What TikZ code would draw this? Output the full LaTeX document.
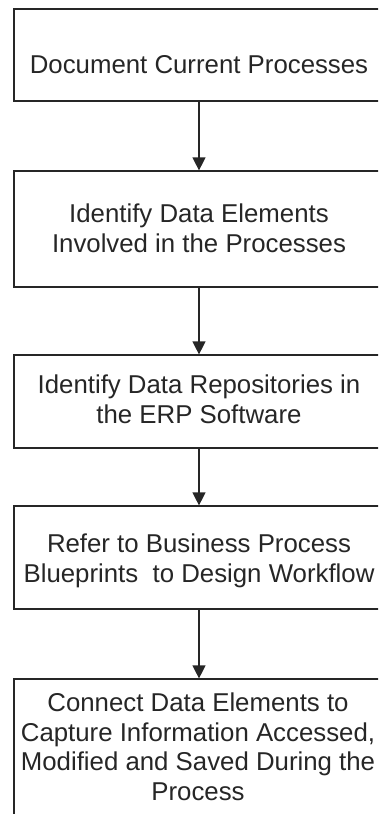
\documentclass[tikz,border=0pt]{standalone}
\usepackage{fontspec}
\setmainfont{Liberation Sans}
\usetikzlibrary{arrows.meta}
\definecolor{ink}{HTML}{262626}
\tikzset{
  stepbox/.style={draw=ink, line width=1.2pt, rectangle, inner sep=0pt, outer sep=0pt, minimum width=370pt},
  steptext/.style={text=ink, align=center, anchor=base, inner sep=0pt, font={\fontsize{25.8}{29.5}\selectfont}},
  flow/.style={draw=ink, line width=1.2pt, -{Triangle[width=13pt,length=13pt]}, shorten >=0.6pt}
}
\begin{document}
\begin{tikzpicture}[x=1pt,y=-1pt]
\path[use as bounding box, clip] (0,0) rectangle (378,814);
\node[stepbox, minimum height=92pt]  (b1) at (199,55) {};
\node[stepbox, minimum height=116pt] (b2) at (199,229) {};
\node[stepbox, minimum height=93pt]  (b3) at (199,401.5) {};
\node[stepbox, minimum height=103pt] (b4) at (199,557.5) {};
\node[stepbox, minimum height=161pt] (b5) at (199,759.5) {};
\node[steptext] (t1) at (199,73) {Document Current Processes};
\node[steptext] (t2) at (199,252) {Identify Data Elements\\Involved in the Processes};
\node[steptext] (t3) at (199,423) {Identify Data Repositories in\\the ERP Software};
\node[steptext] (t4) at (199,582) {Refer to Business Process\\Blueprints\ \ to Design Workflow};
\node[steptext] (t5) at (198,800) {Connect Data Elements to\\Capture Information Accessed,\\Modified and Saved During the\\Process};
\draw[flow] (b1.south) -- (b2.north);
\draw[flow] (b2.south) -- (b3.north);
\draw[flow] (b3.south) -- (b4.north);
\draw[flow] (b4.south) -- (b5.north);
\end{tikzpicture}
\end{document}
